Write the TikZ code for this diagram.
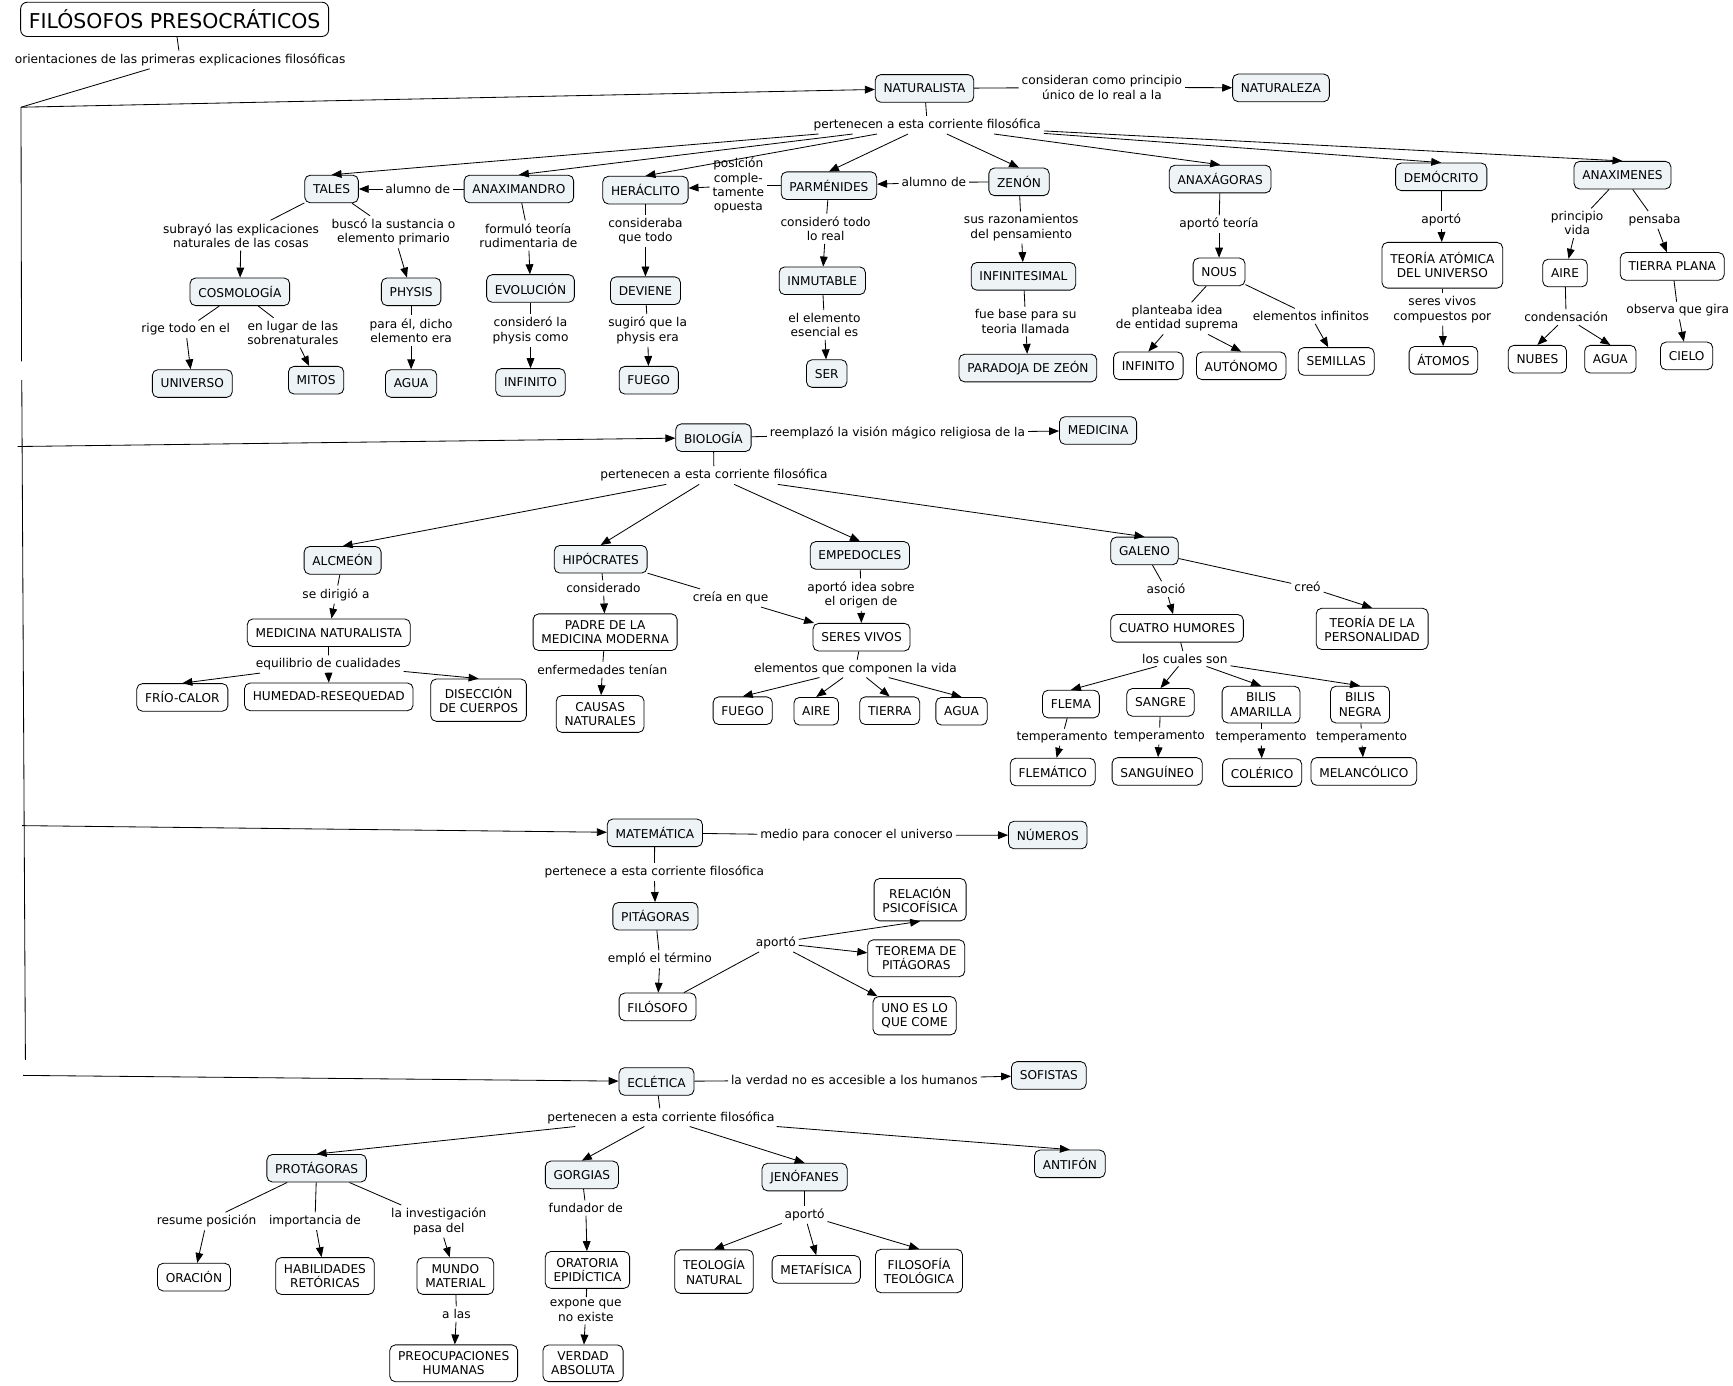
\documentclass[tikz,border=0pt]{standalone}
\usepackage{fontspec}
\setmainfont{DejaVu Sans}
\usetikzlibrary{arrows.meta}
\definecolor{cfill}{RGB}{238,243,246}
\newcommand\cmfont{\fontsize{11}{13}\selectfont}
\begin{document}
\begin{tikzpicture}[x=1pt,y=-1pt,
  concept/.style={draw, rounded corners=5pt, fill=cfill, line width=0.75pt, inner xsep=7.5pt, inner ysep=6pt, minimum height=25pt, align=center, font=\cmfont},
  leaf/.style={concept, fill=white},
  titlebox/.style={draw, rounded corners=6pt, fill=white, line width=0.8pt, inner xsep=7.5pt, minimum height=31pt, font=\fontsize{18.5}{22}\selectfont},
  lnk/.style={inner sep=2.5pt, align=center, font=\cmfont},
  con/.style={line width=0.75pt},
  arr/.style={con, -{Triangle[length=9pt,width=7pt]}}]
\useasboundingbox (0,0) rectangle (1568,1254);

% ---------- title and trunk ----------
\node[titlebox] (tit) at (158,17.5) {FILÓSOFOS PRESOCRÁTICOS};
\node[lnk] (orient) at (163,54) {orientaciones de las primeras explicaciones filosóficas};
\draw[con] (tit) -- (orient);
\coordinate (j0) at (19,97);
\coordinate (jga) at (19.5,327);
\coordinate (jgb) at (19.7,344);
\coordinate (jend) at (23,959);
\coordinate (jb) at (16,404);
\coordinate (jm) at (20,747);
\coordinate (je) at (21,973);
\draw[con] (orient) -- (j0);
\draw[con] (j0) -- (jga);
\draw[con] (jgb) -- (jend);

% ---------- NATURALISTA ----------
\node[concept] (nat) at (836.5,80) {NATURALISTA};
\node[lnk] (lcons) at (997,79) {consideran como principio\\único de lo real a la};
\node[concept] (natz) at (1159,79.5) {NATURALEZA};
\draw[arr] (j0) -- (nat);
\draw[con] (nat) -- (lcons);
\draw[arr] (lcons) -- (natz);
\node[lnk] (lpa) at (839,113) {pertenecen a esta corriente filosófica};
\draw[con] (nat) -- (lpa);

\node[concept] (tales) at (300,171) {TALES};
\node[concept] (anaxm) at (469.5,171) {ANAXIMANDRO};
\node[concept] (herac) at (584,172) {HERÁCLITO};
\node[concept] (parm) at (750,168) {PARMÉNIDES};
\node[concept] (zenon) at (922,164.5) {ZENÓN};
\node[concept] (anaxg) at (1104,162) {ANAXÁGORAS};
\node[concept] (demo) at (1304,160) {DEMÓCRITO};
\node[concept] (anaxn) at (1468,158.5) {ANAXIMENES};
\foreach \t in {tales,anaxm,herac,parm,zenon,anaxg,demo,anaxn}
  \draw[arr] (lpa) -- (\t.north);

\node[lnk] (lal1) at (378,171) {alumno de};
\draw[con] (anaxm) -- (lal1);
\draw[arr] (lal1) -- (tales);
\node[lnk] (lpos) at (668,168) {posición\\comple-\\tamente\\opuesta};
\draw[con] (parm) -- (lpos);
\draw[arr] (lpos) -- (herac);
\node[lnk] (lal2) at (845,165) {alumno de};
\draw[con] (zenon) -- (lal2);
\draw[arr] (lal2) -- (parm);

% Tales
\node[lnk] (lsub) at (218,213) {subrayó las explicaciones\\naturales de las cosas};
\node[concept] (cosmo) at (217,264) {COSMOLOGÍA};
\draw[con] (tales) -- (lsub); \draw[arr] (lsub) -- (cosmo);
\node[lnk] (lbus) at (356,210) {buscó la sustancia o\\elemento primario};
\node[concept] (physis) at (372,264) {PHYSIS};
\draw[con] (tales) -- (lbus); \draw[arr] (lbus) -- (physis);
\node[lnk] (lrige) at (168,298) {rige todo en el};
\node[concept] (univ) at (174,347) {UNIVERSO};
\draw[con] (cosmo) -- (lrige); \draw[arr] (lrige) -- (univ);
\node[lnk] (llug) at (265,301) {en lugar de las\\sobrenaturales};
\node[concept] (mitos) at (286,344) {MITOS};
\draw[con] (cosmo) -- (llug); \draw[arr] (llug) -- (mitos);
\node[lnk] (lpara) at (372,299) {para él, dicho\\elemento era};
\node[concept] (aguaa) at (372,347) {AGUA};
\draw[con] (physis) -- (lpara); \draw[arr] (lpara) -- (aguaa);
% Anaximandro
\node[lnk] (lform) at (478,213) {formuló teoría\\rudimentaria de};
\node[concept] (evol) at (480,261) {EVOLUCIÓN};
\draw[con] (anaxm) -- (lform); \draw[arr] (lform) -- (evol);
\node[lnk] (lcla) at (480,299) {consideró la\\physis como};
\node[concept] (infa) at (480,346) {INFINITO};
\draw[con] (evol) -- (lcla); \draw[arr] (lcla) -- (infa);
% Heraclito
\node[lnk] (lcba) at (584,209) {consideraba\\que todo};
\node[concept] (dev) at (584,263) {DEVIENE};
\draw[con] (herac) -- (lcba); \draw[arr] (lcba) -- (dev);
\node[lnk] (lsug) at (586,299) {sugiró que la\\physis era};
\node[concept] (fuegoa) at (587,344) {FUEGO};
\draw[con] (dev) -- (lsug); \draw[arr] (lsug) -- (fuegoa);
% Parmenides
\node[lnk] (lctodo) at (747,207) {consideró todo\\lo real};
\node[concept] (inmut) at (744,254) {INMUTABLE};
\draw[con] (parm) -- (lctodo); \draw[arr] (lctodo) -- (inmut);
\node[lnk] (lelem) at (746,294) {el elemento\\esencial es};
\node[concept] (ser) at (748,338) {SER};
\draw[con] (inmut) -- (lelem); \draw[arr] (lelem) -- (ser);
% Zenon
\node[lnk] (lsus) at (924,206) {sus razonamientos\\del pensamiento};
\node[concept] (infts) at (926,250) {INFINITESIMAL};
\draw[con] (zenon) -- (lsus); \draw[arr] (lsus) -- (infts);
\node[lnk] (lfue) at (928,291) {fue base para su\\teoria llamada};
\node[concept] (parad) at (930,333) {PARADOJA DE ZEÓN};
\draw[con] (infts) -- (lfue); \draw[arr] (lfue) -- (parad);
% Anaxagoras
\node[lnk] (lapt) at (1103,203) {aportó teoría};
\node[leaf] (nous) at (1103,246) {NOUS};
\draw[con] (anaxg) -- (lapt); \draw[arr] (lapt) -- (nous);
\node[lnk] (lplan) at (1065,288) {planteaba idea\\de entidad suprema};
\node[leaf] (infb) at (1039,331) {INFINITO};
\node[leaf] (auton) at (1123,331) {AUTÓNOMO};
\draw[con] (nous) -- (lplan);
\draw[arr] (lplan) -- (infb.north);
\draw[arr] (lplan) -- (auton.north);
\node[lnk] (lelinf) at (1186,286) {elementos infinitos};
\node[leaf] (semi) at (1209,327) {SEMILLAS};
\draw[con] (nous) -- (lelinf); \draw[arr] (lelinf) -- (semi);
% Democrito
\node[lnk] (lapd) at (1304,199) {aportó};
\node[leaf, inner ysep=9pt] (teoat) at (1305,240) {TEORÍA ATÓMICA\\DEL UNIVERSO};
\draw[con] (demo) -- (lapd); \draw[arr] (lapd) -- (teoat);
\node[lnk] (lserv) at (1305,280) {seres vivos\\compuestos por};
\node[leaf] (atom) at (1306,326) {ÁTOMOS};
\draw[con] (teoat) -- (lserv); \draw[arr] (lserv) -- (atom);
% Anaximenes
\node[lnk] (lprin) at (1427,202) {principio\\vida};
\node[leaf] (airea) at (1416,247) {AIRE};
\draw[con] (anaxn) -- (lprin); \draw[arr] (lprin) -- (airea);
\node[lnk] (lpens) at (1497,199) {pensaba};
\node[leaf] (tierraa) at (1513,241) {TIERRA PLANA};
\draw[con] (anaxn) -- (lpens); \draw[arr] (lpens) -- (tierraa);
\node[lnk] (lcond) at (1417,287) {condensación};
\node[leaf] (nubes) at (1391,325) {NUBES};
\node[leaf] (aguab) at (1457,325) {AGUA};
\draw[con] (airea) -- (lcond);
\draw[arr] (lcond) -- (nubes.north);
\draw[arr] (lcond) -- (aguab.north);
\node[lnk] (lobs) at (1518,281) {observa que gira};
\node[leaf] (cielo) at (1526,322) {CIELO};
\draw[con] (tierraa) -- (lobs); \draw[arr] (lobs) -- (cielo);

% ---------- BIOLOGIA ----------
\node[concept] (bio) at (645.5,396) {BIOLOGÍA};
\node[lnk] (lreem) at (812,392) {reemplazó la visión mágico religiosa de la};
\node[concept] (medic) at (993.5,389.5) {MEDICINA};
\draw[arr] (jb) -- (bio);
\draw[con] (bio) -- (lreem); \draw[arr] (lreem) -- (medic);
\node[lnk] (lpb) at (646,430) {pertenecen a esta corriente filosófica};
\draw[con] (bio) -- (lpb);
\node[concept] (alc) at (310,507) {ALCMEÓN};
\node[concept] (hipo) at (543.5,506) {HIPÓCRATES};
\node[concept] (emp) at (778,502.5) {EMPEDOCLES};
\node[concept] (gal) at (1035.5,498.5) {GALENO};
\foreach \t in {alc,hipo,emp,gal}
  \draw[arr] (lpb) -- (\t.north);
% Alcmeon
\node[lnk] (ldir) at (304,538) {se dirigió a};
\node[leaf] (mednat) at (297.5,572.5) {MEDICINA NATURALISTA};
\draw[con] (alc) -- (ldir); \draw[arr] (ldir) -- (mednat);
\node[lnk] (lequi) at (297,601) {equilibrio de cualidades};
\node[leaf] (frio) at (165,631) {FRÍO-CALOR};
\node[leaf] (humed) at (297.5,630.5) {HUMEDAD-RESEQUEDAD};
\node[leaf, inner ysep=7.5pt] (disec) at (433,633.5) {DISECCIÓN\\DE CUERPOS};
\draw[con] (mednat) -- (lequi);
\foreach \t in {frio,humed,disec}
  \draw[arr] (lequi) -- (\t.north);
% Hipocrates
\node[lnk] (lcdo) at (546,532) {considerado};
\node[leaf] (padre) at (547.5,572) {PADRE DE LA\\MEDICINA MODERNA};
\draw[con] (hipo) -- (lcdo); \draw[arr] (lcdo) -- (padre);
\node[lnk] (lenf) at (545,606) {enfermedades tenían};
\node[leaf] (causas) at (543,646) {CAUSAS\\NATURALES};
\draw[con] (padre) -- (lenf); \draw[arr] (lenf) -- (causas);
\node[lnk] (lcreia) at (661,541) {creía en que};
\node[leaf] (seres) at (779.5,576.5) {SERES VIVOS};
\draw[con] (hipo) -- (lcreia); \draw[arr] (lcreia) -- (seres);
% Empedocles
\node[lnk] (lapi) at (779,538) {aportó idea sobre\\el origen de};
\draw[con] (emp) -- (lapi); \draw[arr] (lapi) -- (seres);
\node[lnk] (lvida) at (774,605) {elementos que componen la vida};
\node[leaf] (fuegob) at (672,643) {FUEGO};
\node[leaf] (aireb) at (738.5,643.5) {AIRE};
\node[leaf] (tierrab) at (805,643) {TIERRA};
\node[leaf] (aguac) at (870,643.5) {AGUA};
\draw[con] (seres) -- (lvida);
\foreach \t in {fuegob,aireb,tierrab,aguac}
  \draw[arr] (lvida) -- (\t.north);
% Galeno
\node[lnk] (lasoc) at (1055,533) {asoció};
\node[leaf] (cuatro) at (1065,568.5) {CUATRO HUMORES};
\draw[con] (gal) -- (lasoc); \draw[arr] (lasoc) -- (cuatro);
\node[lnk] (lcreo) at (1183,531) {creó};
\node[leaf, inner ysep=7pt] (teopers) at (1241.5,569) {TEORÍA DE LA\\PERSONALIDAD};
\draw[con] (gal) -- (lcreo); \draw[arr] (lcreo) -- (teopers.north);
\node[lnk] (lcual) at (1072,596) {los cuales son};
\node[leaf] (flema) at (969,637) {FLEMA};
\node[leaf] (sangre) at (1050,635.5) {SANGRE};
\node[leaf] (bilisa) at (1141,637.5) {BILIS\\AMARILLA};
\node[leaf] (bilisn) at (1230.5,637.5) {BILIS\\NEGRA};
\draw[con] (cuatro) -- (lcual);
\foreach \t in {flema,sangre,bilisa,bilisn}
  \draw[arr] (lcual) -- (\t.north);
\node[lnk] (lt1) at (961,667) {temperamento};
\node[lnk] (lt2) at (1049,666) {temperamento};
\node[lnk] (lt3) at (1141,667) {temperamento};
\node[lnk] (lt4) at (1232,667) {temperamento};
\node[leaf] (flemat) at (952.5,698.5) {FLEMÁTICO};
\node[leaf] (sangu) at (1047,698) {SANGUÍNEO};
\node[leaf] (coler) at (1142,699) {COLÉRICO};
\node[leaf] (melan) at (1234,698) {MELANCÓLICO};
\draw[con] (flema) -- (lt1); \draw[arr] (lt1) -- (flemat);
\draw[con] (sangre) -- (lt2); \draw[arr] (lt2) -- (sangu);
\draw[con] (bilisa) -- (lt3); \draw[arr] (lt3) -- (coler);
\draw[con] (bilisn) -- (lt4); \draw[arr] (lt4) -- (melan);

% ---------- MATEMATICA ----------
\node[concept] (mat) at (592.5,753.5) {MATEMÁTICA};
\node[lnk] (lmedio) at (775,756) {medio para conocer el universo};
\node[concept] (nums) at (948,755.5) {NÚMEROS};
\draw[arr] (jm) -- (mat);
\draw[con] (mat) -- (lmedio); \draw[arr] (lmedio) -- (nums);
\node[lnk] (lpm) at (592,789) {pertenece a esta corriente filosófica};
\node[concept] (pita) at (593,829) {PITÁGORAS};
\draw[con] (mat) -- (lpm); \draw[arr] (lpm) -- (pita);
\node[lnk] (lemp) at (597,868) {empló el término};
\node[leaf] (filo) at (595,911) {FILÓSOFO};
\draw[con] (pita) -- (lemp); \draw[arr] (lemp) -- (filo);
\node[lnk] (lapm) at (702,853) {aportó};
\node[leaf, inner ysep=7.5pt] (relac) at (832.5,814) {RELACIÓN\\PSICOFÍSICA};
\node[leaf] (teor) at (829,867) {TEOREMA DE\\PITÁGORAS};
\node[leaf] (uno) at (827.5,919) {UNO ES LO\\QUE COME};
\draw[con] (filo) -- (lapm);
\draw[arr] (lapm) -- (relac.south);
\draw[arr] (lapm) -- (teor);
\draw[arr] (lapm) -- (uno);

% ---------- ECLETICA ----------
\node[concept] (ecl) at (594,978.5) {ECLÉTICA};
\node[lnk] (lverd) at (773,977) {la verdad no es accesible a los humanos};
\node[concept] (sof) at (949,973) {SOFISTAS};
\draw[arr] (je) -- (ecl);
\draw[con] (ecl) -- (lverd); \draw[arr] (lverd) -- (sof);
\node[lnk] (lpe) at (598,1011) {pertenecen a esta corriente filosófica};
\draw[con] (ecl) -- (lpe);
\node[concept] (prot) at (286.5,1057) {PROTÁGORAS};
\node[concept] (gorg) at (526.5,1063) {GORGIAS};
\node[concept] (jeno) at (728,1065) {JENÓFANES};
\node[concept] (antif) at (968,1053) {ANTIFÓN};
\foreach \t in {prot,gorg,jeno,antif}
  \draw[arr] (lpe) -- (\t.north);
% Protagoras
\node[lnk] (lres) at (187,1105) {resume posición};
\node[leaf] (orac) at (175.5,1155.5) {ORACIÓN};
\draw[con] (prot) -- (lres); \draw[arr] (lres) -- (orac);
\node[lnk] (limp) at (285,1105) {importancia de};
\node[leaf] (habil) at (294,1154.5) {HABILIDADES\\RETÓRICAS};
\draw[con] (prot) -- (limp); \draw[arr] (limp) -- (habil);
\node[lnk] (linv) at (397,1105) {la investigación\\pasa del};
\node[leaf] (mundo) at (412,1154.5) {MUNDO\\MATERIAL};
\draw[con] (prot) -- (linv); \draw[arr] (linv) -- (mundo);
\node[lnk] (lalas) at (413,1189) {a las};
\node[leaf] (preoc) at (410.5,1233.5) {PREOCUPACIONES\\HUMANAS};
\draw[con] (mundo) -- (lalas); \draw[arr] (lalas) -- (preoc);
% Gorgias
\node[lnk] (lfund) at (530,1093) {fundador de};
\node[leaf] (orat) at (531.5,1149) {ORATORIA\\EPIDÍCTICA};
\draw[con] (gorg) -- (lfund); \draw[arr] (lfund) -- (orat);
\node[lnk] (lexpo) at (530,1186) {expone que\\no existe};
\node[leaf] (verd) at (527.5,1233.5) {VERDAD\\ABSOLUTA};
\draw[con] (orat) -- (lexpo); \draw[arr] (lexpo) -- (verd);
% Jenofanes
\node[lnk] (lapj) at (728,1099) {aportó};
\node[leaf, inner ysep=8pt] (teolnat) at (646,1150.5) {TEOLOGÍA\\NATURAL};
\node[leaf] (metaf) at (738.5,1148.5) {METAFÍSICA};
\node[leaf, inner ysep=8pt] (filteo) at (831.5,1150) {FILOSOFÍA\\TEOLÓGICA};
\draw[con] (jeno) -- (lapj);
\foreach \t in {teolnat,metaf,filteo}
  \draw[arr] (lapj) -- (\t.north);
\end{tikzpicture}
\end{document}
